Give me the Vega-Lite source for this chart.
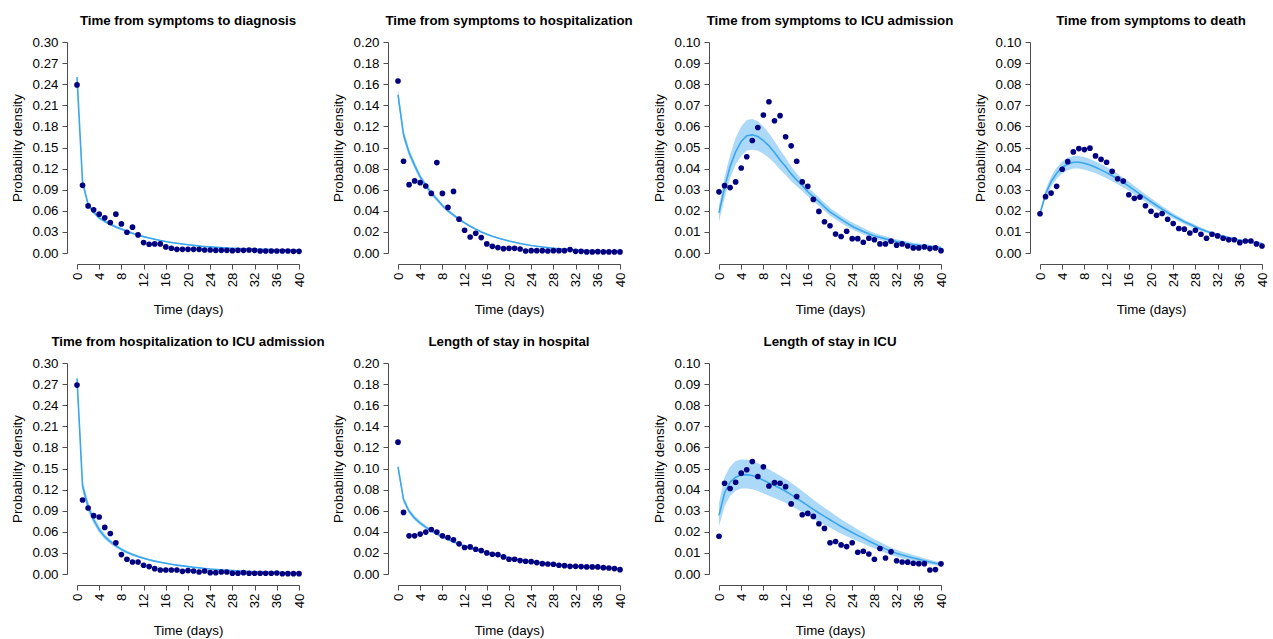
{
 "$schema": "https://vega.github.io/schema/vega-lite/v6.json",
 "padding": {"left": 10, "top": 13, "right": 5, "bottom": 2},
 "background": "white",
 "columns": 4,
 "spacing": {"row": 110, "column": 99},
 "bounds": "flush",
 "datasets": {
  "diag": [
   {"day":0,"observed":0.239,"fitted":0.250,"lower":0.243,"upper":0.257},
   {"day":1,"observed":0.0962,"fitted":0.101,"lower":0.096,"upper":0.106},
   {"day":2,"observed":0.067,"fitted":0.069,"lower":0.066,"upper":0.072},
   {"day":3,"observed":0.0614,"fitted":0.058,"lower":0.055,"upper":0.061},
   {"day":4,"observed":0.0552,"fitted":0.050,"lower":0.0475,"upper":0.0525},
   {"day":5,"observed":0.050,"fitted":0.045,"lower":0.043,"upper":0.047},
   {"day":6,"observed":0.0433,"fitted":0.041,"lower":0.039,"upper":0.043},
   {"day":7,"observed":0.0552,"fitted":0.037,"lower":0.035,"upper":0.039},
   {"day":8,"observed":0.0414,"fitted":0.034,"lower":0.0323,"upper":0.0357},
   {"day":9,"observed":0.0295,"fitted":0.031,"lower":0.0295,"upper":0.0326},
   {"day":10,"observed":0.0367,"fitted":0.028,"lower":0.0266,"upper":0.0294},
   {"day":11,"observed":0.0257,"fitted":0.0255,"lower":0.0242,"upper":0.0268},
   {"day":12,"observed":0.0148,"fitted":0.0233,"lower":0.0221,"upper":0.0245},
   {"day":13,"observed":0.0124,"fitted":0.0213,"lower":0.0202,"upper":0.0224},
   {"day":14,"observed":0.0129,"fitted":0.0195,"lower":0.0185,"upper":0.0205},
   {"day":15,"observed":0.0129,"fitted":0.0178,"lower":0.0169,"upper":0.0187},
   {"day":16,"observed":0.0086,"fitted":0.0163,"lower":0.0155,"upper":0.0171},
   {"day":17,"observed":0.0067,"fitted":0.015,"lower":0.0142,"upper":0.0158},
   {"day":18,"observed":0.0052,"fitted":0.0138,"lower":0.0131,"upper":0.0145},
   {"day":19,"observed":0.0052,"fitted":0.0127,"lower":0.0121,"upper":0.0133},
   {"day":20,"observed":0.0052,"fitted":0.0117,"lower":0.0111,"upper":0.0123},
   {"day":21,"observed":0.0052,"fitted":0.0108,"lower":0.0103,"upper":0.0113},
   {"day":22,"observed":0.0052,"fitted":0.0100,"lower":0.0095,"upper":0.0105},
   {"day":23,"observed":0.0043,"fitted":0.0093,"lower":0.0088,"upper":0.0098},
   {"day":24,"observed":0.0043,"fitted":0.0087,"lower":0.0083,"upper":0.0091},
   {"day":25,"observed":0.0038,"fitted":0.0081,"lower":0.0077,"upper":0.0085},
   {"day":26,"observed":0.0038,"fitted":0.0076,"lower":0.0072,"upper":0.008},
   {"day":27,"observed":0.0038,"fitted":0.0072,"lower":0.0068,"upper":0.0076},
   {"day":28,"observed":0.0033,"fitted":0.0068,"lower":0.0065,"upper":0.0071},
   {"day":29,"observed":0.0038,"fitted":0.0064,"lower":0.0061,"upper":0.0067},
   {"day":30,"observed":0.0038,"fitted":0.0061,"lower":0.0058,"upper":0.0064},
   {"day":31,"observed":0.0043,"fitted":0.0058,"lower":0.0055,"upper":0.0061},
   {"day":32,"observed":0.0038,"fitted":0.0055,"lower":0.0052,"upper":0.0058},
   {"day":33,"observed":0.0029,"fitted":0.0053,"lower":0.005,"upper":0.0056},
   {"day":34,"observed":0.0029,"fitted":0.0051,"lower":0.0048,"upper":0.0054},
   {"day":35,"observed":0.0029,"fitted":0.0049,"lower":0.0047,"upper":0.0051},
   {"day":36,"observed":0.0029,"fitted":0.0047,"lower":0.0045,"upper":0.0049},
   {"day":37,"observed":0.0029,"fitted":0.0045,"lower":0.0043,"upper":0.0047},
   {"day":38,"observed":0.0029,"fitted":0.0043,"lower":0.0041,"upper":0.0045},
   {"day":39,"observed":0.0024,"fitted":0.0041,"lower":0.0039,"upper":0.0043},
   {"day":40,"observed":0.0024,"fitted":0.0040,"lower":0.0038,"upper":0.0042}
  ],
  "hosp": [
   {"day":0,"observed":0.163,"fitted":0.150,"lower":0.144,"upper":0.156},
   {"day":1,"observed":0.087,"fitted":0.112,"lower":0.1075,"upper":0.1165},
   {"day":2,"observed":0.0648,"fitted":0.095,"lower":0.0912,"upper":0.0988},
   {"day":3,"observed":0.0683,"fitted":0.083,"lower":0.0797,"upper":0.0863},
   {"day":4,"observed":0.0667,"fitted":0.072,"lower":0.0691,"upper":0.0749},
   {"day":5,"observed":0.0635,"fitted":0.064,"lower":0.0614,"upper":0.0666},
   {"day":6,"observed":0.0565,"fitted":0.057,"lower":0.0547,"upper":0.0593},
   {"day":7,"observed":0.0857,"fitted":0.051,"lower":0.049,"upper":0.053},
   {"day":8,"observed":0.0565,"fitted":0.045,"lower":0.0432,"upper":0.0468},
   {"day":9,"observed":0.0432,"fitted":0.040,"lower":0.0384,"upper":0.0416},
   {"day":10,"observed":0.0584,"fitted":0.036,"lower":0.0346,"upper":0.0374},
   {"day":11,"observed":0.0321,"fitted":0.032,"lower":0.0307,"upper":0.0333},
   {"day":12,"observed":0.0216,"fitted":0.0285,"lower":0.0274,"upper":0.0296},
   {"day":13,"observed":0.0152,"fitted":0.0254,"lower":0.0244,"upper":0.0264},
   {"day":14,"observed":0.0187,"fitted":0.0226,"lower":0.0217,"upper":0.0235},
   {"day":15,"observed":0.0146,"fitted":0.020,"lower":0.0192,"upper":0.0208},
   {"day":16,"observed":0.0086,"fitted":0.0178,"lower":0.0171,"upper":0.0185},
   {"day":17,"observed":0.0063,"fitted":0.0159,"lower":0.0153,"upper":0.0165},
   {"day":18,"observed":0.0051,"fitted":0.0142,"lower":0.0136,"upper":0.0148},
   {"day":19,"observed":0.0041,"fitted":0.0127,"lower":0.0122,"upper":0.0132},
   {"day":20,"observed":0.0044,"fitted":0.0113,"lower":0.0108,"upper":0.0118},
   {"day":21,"observed":0.0044,"fitted":0.0101,"lower":0.0097,"upper":0.0105},
   {"day":22,"observed":0.0038,"fitted":0.0090,"lower":0.0086,"upper":0.0094},
   {"day":23,"observed":0.0019,"fitted":0.0080,"lower":0.0077,"upper":0.0083},
   {"day":24,"observed":0.0022,"fitted":0.0071,"lower":0.0068,"upper":0.0074},
   {"day":25,"observed":0.0022,"fitted":0.0064,"lower":0.0061,"upper":0.0067},
   {"day":26,"observed":0.0022,"fitted":0.0057,"lower":0.0055,"upper":0.0059},
   {"day":27,"observed":0.0019,"fitted":0.0051,"lower":0.0049,"upper":0.0053},
   {"day":28,"observed":0.0022,"fitted":0.0045,"lower":0.0043,"upper":0.0047},
   {"day":29,"observed":0.0022,"fitted":0.0040,"lower":0.0038,"upper":0.0042},
   {"day":30,"observed":0.0022,"fitted":0.0036,"lower":0.0035,"upper":0.0037},
   {"day":31,"observed":0.0032,"fitted":0.0032,"lower":0.0031,"upper":0.0033},
   {"day":32,"observed":0.0016,"fitted":0.0029,"lower":0.0028,"upper":0.0030},
   {"day":33,"observed":0.0016,"fitted":0.0026,"lower":0.0025,"upper":0.0027},
   {"day":34,"observed":0.001,"fitted":0.0023,"lower":0.0022,"upper":0.0024},
   {"day":35,"observed":0.001,"fitted":0.0021,"lower":0.002,"upper":0.0022},
   {"day":36,"observed":0.0013,"fitted":0.0019,"lower":0.0018,"upper":0.002},
   {"day":37,"observed":0.001,"fitted":0.0017,"lower":0.0016,"upper":0.0018},
   {"day":38,"observed":0.001,"fitted":0.0015,"lower":0.0014,"upper":0.0016},
   {"day":39,"observed":0.001,"fitted":0.0013,"lower":0.0012,"upper":0.0014},
   {"day":40,"observed":0.001,"fitted":0.0012,"lower":0.0011,"upper":0.0013}
  ],
  "icu": [
   {"day":0,"observed":0.029,"fitted":0.019,"lower":0.0148,"upper":0.0225},
   {"day":1,"observed":0.0319,"fitted":0.031,"lower":0.026,"upper":0.036},
   {"day":2,"observed":0.031,"fitted":0.041,"lower":0.0355,"upper":0.0465},
   {"day":3,"observed":0.0337,"fitted":0.048,"lower":0.042,"upper":0.0545},
   {"day":4,"observed":0.0403,"fitted":0.0529,"lower":0.046,"upper":0.060},
   {"day":5,"observed":0.0456,"fitted":0.0556,"lower":0.0485,"upper":0.063},
   {"day":6,"observed":0.0533,"fitted":0.056,"lower":0.049,"upper":0.0635},
   {"day":7,"observed":0.0595,"fitted":0.0552,"lower":0.0485,"upper":0.0625},
   {"day":8,"observed":0.0654,"fitted":0.0533,"lower":0.047,"upper":0.060},
   {"day":9,"observed":0.0717,"fitted":0.0508,"lower":0.045,"upper":0.0568},
   {"day":10,"observed":0.0627,"fitted":0.0476,"lower":0.0425,"upper":0.053},
   {"day":11,"observed":0.0651,"fitted":0.0441,"lower":0.0396,"upper":0.0488},
   {"day":12,"observed":0.0551,"fitted":0.041,"lower":0.037,"upper":0.0452},
   {"day":13,"observed":0.0508,"fitted":0.0375,"lower":0.034,"upper":0.041},
   {"day":14,"observed":0.0435,"fitted":0.0346,"lower":0.0316,"upper":0.0377},
   {"day":15,"observed":0.0337,"fitted":0.032,"lower":0.0294,"upper":0.0347},
   {"day":16,"observed":0.0316,"fitted":0.029,"lower":0.0268,"upper":0.0313},
   {"day":17,"observed":0.0254,"fitted":0.0266,"lower":0.0245,"upper":0.0288},
   {"day":18,"observed":0.0197,"fitted":0.0243,"lower":0.0223,"upper":0.0264},
   {"day":19,"observed":0.0148,"fitted":0.0219,"lower":0.0200,"upper":0.0239},
   {"day":20,"observed":0.0129,"fitted":0.0195,"lower":0.0177,"upper":0.0214},
   {"day":21,"observed":0.0090,"fitted":0.0177,"lower":0.016,"upper":0.0195},
   {"day":22,"observed":0.0078,"fitted":0.0159,"lower":0.0142,"upper":0.0177},
   {"day":23,"observed":0.0103,"fitted":0.0143,"lower":0.0126,"upper":0.016},
   {"day":24,"observed":0.0068,"fitted":0.0127,"lower":0.0111,"upper":0.0145},
   {"day":25,"observed":0.0068,"fitted":0.0114,"lower":0.0099,"upper":0.0131},
   {"day":26,"observed":0.0051,"fitted":0.0102,"lower":0.0088,"upper":0.0118},
   {"day":27,"observed":0.0070,"fitted":0.0091,"lower":0.0078,"upper":0.0106},
   {"day":28,"observed":0.0063,"fitted":0.0081,"lower":0.0069,"upper":0.0095},
   {"day":29,"observed":0.0043,"fitted":0.0074,"lower":0.0062,"upper":0.0087},
   {"day":30,"observed":0.0043,"fitted":0.0067,"lower":0.0055,"upper":0.0079},
   {"day":31,"observed":0.0056,"fitted":0.006,"lower":0.0049,"upper":0.0071},
   {"day":32,"observed":0.0037,"fitted":0.0054,"lower":0.0044,"upper":0.0065},
   {"day":33,"observed":0.0043,"fitted":0.0049,"lower":0.0039,"upper":0.0059},
   {"day":34,"observed":0.0033,"fitted":0.0044,"lower":0.0035,"upper":0.0054},
   {"day":35,"observed":0.0024,"fitted":0.004,"lower":0.0031,"upper":0.0049},
   {"day":36,"observed":0.0024,"fitted":0.0037,"lower":0.0028,"upper":0.0045},
   {"day":37,"observed":0.0029,"fitted":0.0034,"lower":0.0025,"upper":0.0042},
   {"day":38,"observed":0.0021,"fitted":0.0031,"lower":0.0023,"upper":0.0039},
   {"day":39,"observed":0.0024,"fitted":0.0028,"lower":0.0021,"upper":0.0036},
   {"day":40,"observed":0.0011,"fitted":0.0025,"lower":0.0019,"upper":0.0033}
  ],
  "death": [
   {"day":0,"observed":0.0186,"fitted":0.0186,"lower":0.0177,"upper":0.0195},
   {"day":1,"observed":0.0267,"fitted":0.028,"lower":0.026,"upper":0.030},
   {"day":2,"observed":0.0284,"fitted":0.0338,"lower":0.0314,"upper":0.0362},
   {"day":3,"observed":0.0316,"fitted":0.0378,"lower":0.0352,"upper":0.0404},
   {"day":4,"observed":0.0397,"fitted":0.0406,"lower":0.0378,"upper":0.0434},
   {"day":5,"observed":0.0433,"fitted":0.0422,"lower":0.0392,"upper":0.0452},
   {"day":6,"observed":0.0479,"fitted":0.043,"lower":0.040,"upper":0.046},
   {"day":7,"observed":0.0495,"fitted":0.043,"lower":0.040,"upper":0.046},
   {"day":8,"observed":0.049,"fitted":0.0425,"lower":0.0395,"upper":0.0455},
   {"day":9,"observed":0.0497,"fitted":0.0417,"lower":0.0388,"upper":0.0446},
   {"day":10,"observed":0.046,"fitted":0.0406,"lower":0.0378,"upper":0.0434},
   {"day":11,"observed":0.0444,"fitted":0.0394,"lower":0.0366,"upper":0.0422},
   {"day":12,"observed":0.043,"fitted":0.0381,"lower":0.0354,"upper":0.0408},
   {"day":13,"observed":0.0387,"fitted":0.0366,"lower":0.034,"upper":0.0392},
   {"day":14,"observed":0.0352,"fitted":0.0351,"lower":0.0326,"upper":0.0376},
   {"day":15,"observed":0.0341,"fitted":0.0334,"lower":0.0311,"upper":0.0357},
   {"day":16,"observed":0.0276,"fitted":0.0317,"lower":0.0295,"upper":0.0339},
   {"day":17,"observed":0.0259,"fitted":0.0298,"lower":0.0277,"upper":0.0319},
   {"day":18,"observed":0.0265,"fitted":0.0279,"lower":0.0259,"upper":0.0299},
   {"day":19,"observed":0.0224,"fitted":0.0261,"lower":0.0243,"upper":0.0279},
   {"day":20,"observed":0.0198,"fitted":0.0243,"lower":0.0226,"upper":0.026},
   {"day":21,"observed":0.0179,"fitted":0.0225,"lower":0.0209,"upper":0.0241},
   {"day":22,"observed":0.0187,"fitted":0.0208,"lower":0.0193,"upper":0.0223},
   {"day":23,"observed":0.016,"fitted":0.0192,"lower":0.0179,"upper":0.0205},
   {"day":24,"observed":0.014,"fitted":0.0176,"lower":0.0164,"upper":0.0188},
   {"day":25,"observed":0.0116,"fitted":0.0162,"lower":0.0151,"upper":0.0173},
   {"day":26,"observed":0.0113,"fitted":0.0148,"lower":0.0138,"upper":0.0158},
   {"day":27,"observed":0.0095,"fitted":0.0136,"lower":0.0126,"upper":0.0146},
   {"day":28,"observed":0.0108,"fitted":0.0124,"lower":0.0115,"upper":0.0133},
   {"day":29,"observed":0.0089,"fitted":0.0113,"lower":0.0105,"upper":0.0121},
   {"day":30,"observed":0.007,"fitted":0.0103,"lower":0.0096,"upper":0.011},
   {"day":31,"observed":0.0089,"fitted":0.0094,"lower":0.0087,"upper":0.0101},
   {"day":32,"observed":0.0081,"fitted":0.0086,"lower":0.008,"upper":0.0092},
   {"day":33,"observed":0.007,"fitted":0.0079,"lower":0.0073,"upper":0.0085},
   {"day":34,"observed":0.0063,"fitted":0.0073,"lower":0.0068,"upper":0.0078},
   {"day":35,"observed":0.0063,"fitted":0.0066,"lower":0.0061,"upper":0.0071},
   {"day":36,"observed":0.0049,"fitted":0.0061,"lower":0.0057,"upper":0.0065},
   {"day":37,"observed":0.0057,"fitted":0.0056,"lower":0.0052,"upper":0.006},
   {"day":38,"observed":0.0057,"fitted":0.0052,"lower":0.0048,"upper":0.0056},
   {"day":39,"observed":0.0043,"fitted":0.0048,"lower":0.0045,"upper":0.0051},
   {"day":40,"observed":0.0033,"fitted":0.0045,"lower":0.0042,"upper":0.0048}
  ],
  "hospicu": [
   {"day":0,"observed":0.2686,"fitted":0.278,"lower":0.270,"upper":0.286},
   {"day":1,"observed":0.1052,"fitted":0.125,"lower":0.117,"upper":0.133},
   {"day":2,"observed":0.0938,"fitted":0.096,"lower":0.089,"upper":0.103},
   {"day":3,"observed":0.0829,"fitted":0.077,"lower":0.0716,"upper":0.0824},
   {"day":4,"observed":0.081,"fitted":0.063,"lower":0.0586,"upper":0.0674},
   {"day":5,"observed":0.0662,"fitted":0.053,"lower":0.0493,"upper":0.0567},
   {"day":6,"observed":0.0576,"fitted":0.046,"lower":0.0428,"upper":0.0492},
   {"day":7,"observed":0.0443,"fitted":0.040,"lower":0.0372,"upper":0.0428},
   {"day":8,"observed":0.0276,"fitted":0.035,"lower":0.0326,"upper":0.0374},
   {"day":9,"observed":0.021,"fitted":0.031,"lower":0.0288,"upper":0.0332},
   {"day":10,"observed":0.0171,"fitted":0.0276,"lower":0.0257,"upper":0.0295},
   {"day":11,"observed":0.0171,"fitted":0.0248,"lower":0.0231,"upper":0.0265},
   {"day":12,"observed":0.0124,"fitted":0.0224,"lower":0.0208,"upper":0.024},
   {"day":13,"observed":0.0105,"fitted":0.0202,"lower":0.0188,"upper":0.0216},
   {"day":14,"observed":0.0076,"fitted":0.0183,"lower":0.017,"upper":0.0196},
   {"day":15,"observed":0.0057,"fitted":0.0167,"lower":0.0155,"upper":0.0179},
   {"day":16,"observed":0.0057,"fitted":0.0152,"lower":0.0141,"upper":0.0163},
   {"day":17,"observed":0.0057,"fitted":0.0138,"lower":0.0128,"upper":0.0148},
   {"day":18,"observed":0.0057,"fitted":0.0126,"lower":0.0117,"upper":0.0135},
   {"day":19,"observed":0.0038,"fitted":0.0115,"lower":0.0107,"upper":0.0123},
   {"day":20,"observed":0.0048,"fitted":0.0105,"lower":0.0098,"upper":0.0112},
   {"day":21,"observed":0.0043,"fitted":0.0096,"lower":0.0089,"upper":0.0103},
   {"day":22,"observed":0.0029,"fitted":0.0087,"lower":0.0081,"upper":0.0093},
   {"day":23,"observed":0.0043,"fitted":0.0079,"lower":0.0073,"upper":0.0085},
   {"day":24,"observed":0.0019,"fitted":0.0071,"lower":0.0066,"upper":0.0076},
   {"day":25,"observed":0.0019,"fitted":0.0065,"lower":0.006,"upper":0.007},
   {"day":26,"observed":0.0029,"fitted":0.0059,"lower":0.0055,"upper":0.0063},
   {"day":27,"observed":0.0029,"fitted":0.0053,"lower":0.0049,"upper":0.0057},
   {"day":28,"observed":0.001,"fitted":0.0048,"lower":0.0045,"upper":0.0051},
   {"day":29,"observed":0.001,"fitted":0.0044,"lower":0.0041,"upper":0.0047},
   {"day":30,"observed":0.0019,"fitted":0.004,"lower":0.0037,"upper":0.0043},
   {"day":31,"observed":0.001,"fitted":0.0036,"lower":0.0033,"upper":0.0039},
   {"day":32,"observed":0.001,"fitted":0.0033,"lower":0.0031,"upper":0.0035},
   {"day":33,"observed":0.001,"fitted":0.003,"lower":0.0028,"upper":0.0032},
   {"day":34,"observed":0.001,"fitted":0.0028,"lower":0.0026,"upper":0.003},
   {"day":35,"observed":0.001,"fitted":0.0026,"lower":0.0024,"upper":0.0028},
   {"day":36,"observed":0.0014,"fitted":0.0024,"lower":0.0022,"upper":0.0026},
   {"day":37,"observed":0.0003,"fitted":0.0021,"lower":0.002,"upper":0.0022},
   {"day":38,"observed":0.0005,"fitted":0.0019,"lower":0.0018,"upper":0.002},
   {"day":39,"observed":0.0005,"fitted":0.0017,"lower":0.0016,"upper":0.0018},
   {"day":40,"observed":0.0005,"fitted":0.0015,"lower":0.0014,"upper":0.0016}
  ],
  "loshosp": [
   {"day":0,"observed":0.125,"fitted":0.1016,"lower":0.0975,"upper":0.1057},
   {"day":1,"observed":0.0584,"fitted":0.0705,"lower":0.0677,"upper":0.0733},
   {"day":2,"observed":0.0362,"fitted":0.0594,"lower":0.057,"upper":0.0618},
   {"day":3,"observed":0.0362,"fitted":0.053,"lower":0.0509,"upper":0.0551},
   {"day":4,"observed":0.0378,"fitted":0.0483,"lower":0.0464,"upper":0.0502},
   {"day":5,"observed":0.0397,"fitted":0.0444,"lower":0.0426,"upper":0.0462},
   {"day":6,"observed":0.0422,"fitted":0.041,"lower":0.0394,"upper":0.0426},
   {"day":7,"observed":0.0397,"fitted":0.038,"lower":0.0365,"upper":0.0395},
   {"day":8,"observed":0.0362,"fitted":0.0352,"lower":0.0338,"upper":0.0366},
   {"day":9,"observed":0.0346,"fitted":0.0327,"lower":0.0314,"upper":0.034},
   {"day":10,"observed":0.0324,"fitted":0.0305,"lower":0.0293,"upper":0.0317},
   {"day":11,"observed":0.0286,"fitted":0.0284,"lower":0.0273,"upper":0.0295},
   {"day":12,"observed":0.0251,"fitted":0.0265,"lower":0.0254,"upper":0.0276},
   {"day":13,"observed":0.0257,"fitted":0.0247,"lower":0.0237,"upper":0.0257},
   {"day":14,"observed":0.0235,"fitted":0.0231,"lower":0.0222,"upper":0.024},
   {"day":15,"observed":0.0222,"fitted":0.0216,"lower":0.0207,"upper":0.0225},
   {"day":16,"observed":0.02,"fitted":0.0202,"lower":0.0194,"upper":0.021},
   {"day":17,"observed":0.0187,"fitted":0.0189,"lower":0.0181,"upper":0.0197},
   {"day":18,"observed":0.0184,"fitted":0.0177,"lower":0.017,"upper":0.0184},
   {"day":19,"observed":0.0162,"fitted":0.0165,"lower":0.0158,"upper":0.0172},
   {"day":20,"observed":0.014,"fitted":0.0155,"lower":0.0149,"upper":0.0161},
   {"day":21,"observed":0.014,"fitted":0.0145,"lower":0.0139,"upper":0.0151},
   {"day":22,"observed":0.0127,"fitted":0.0136,"lower":0.0131,"upper":0.0141},
   {"day":23,"observed":0.0121,"fitted":0.0127,"lower":0.0122,"upper":0.0132},
   {"day":24,"observed":0.0117,"fitted":0.0119,"lower":0.0114,"upper":0.0124},
   {"day":25,"observed":0.0108,"fitted":0.0112,"lower":0.0108,"upper":0.0116},
   {"day":26,"observed":0.0098,"fitted":0.0105,"lower":0.0101,"upper":0.0109},
   {"day":27,"observed":0.0095,"fitted":0.0099,"lower":0.0095,"upper":0.0103},
   {"day":28,"observed":0.0092,"fitted":0.0093,"lower":0.0089,"upper":0.0097},
   {"day":29,"observed":0.0083,"fitted":0.0088,"lower":0.0084,"upper":0.0092},
   {"day":30,"observed":0.0079,"fitted":0.0083,"lower":0.008,"upper":0.0086},
   {"day":31,"observed":0.0073,"fitted":0.0078,"lower":0.0075,"upper":0.0081},
   {"day":32,"observed":0.0073,"fitted":0.0074,"lower":0.0071,"upper":0.0077},
   {"day":33,"observed":0.007,"fitted":0.007,"lower":0.0067,"upper":0.0073},
   {"day":34,"observed":0.0067,"fitted":0.0066,"lower":0.0063,"upper":0.0069},
   {"day":35,"observed":0.0067,"fitted":0.0063,"lower":0.006,"upper":0.0066},
   {"day":36,"observed":0.0067,"fitted":0.006,"lower":0.0058,"upper":0.0062},
   {"day":37,"observed":0.006,"fitted":0.0057,"lower":0.0055,"upper":0.0059},
   {"day":38,"observed":0.0057,"fitted":0.0054,"lower":0.0052,"upper":0.0056},
   {"day":39,"observed":0.0051,"fitted":0.0051,"lower":0.0049,"upper":0.0053},
   {"day":40,"observed":0.0041,"fitted":0.0049,"lower":0.0047,"upper":0.0051}
  ],
  "losicu": [
   {"day":0,"observed":0.0179,"fitted":0.0278,"lower":0.0225,"upper":0.0337},
   {"day":1,"observed":0.043,"fitted":0.0384,"lower":0.032,"upper":0.046},
   {"day":2,"observed":0.0405,"fitted":0.0435,"lower":0.037,"upper":0.051},
   {"day":3,"observed":0.0435,"fitted":0.0459,"lower":0.0395,"upper":0.0535},
   {"day":4,"observed":0.0478,"fitted":0.047,"lower":0.0405,"upper":0.0543},
   {"day":5,"observed":0.0494,"fitted":0.0471,"lower":0.0405,"upper":0.0543},
   {"day":6,"observed":0.0533,"fitted":0.0467,"lower":0.0402,"upper":0.0538},
   {"day":7,"observed":0.0462,"fitted":0.0457,"lower":0.0393,"upper":0.0525},
   {"day":8,"observed":0.0508,"fitted":0.0444,"lower":0.0382,"upper":0.051},
   {"day":9,"observed":0.0417,"fitted":0.0432,"lower":0.0371,"upper":0.0496},
   {"day":10,"observed":0.0433,"fitted":0.0419,"lower":0.036,"upper":0.0481},
   {"day":11,"observed":0.043,"fitted":0.0406,"lower":0.0349,"upper":0.0466},
   {"day":12,"observed":0.0414,"fitted":0.0392,"lower":0.0337,"upper":0.045},
   {"day":13,"observed":0.0332,"fitted":0.0376,"lower":0.0323,"upper":0.0432},
   {"day":14,"observed":0.0367,"fitted":0.0359,"lower":0.0308,"upper":0.0413},
   {"day":15,"observed":0.0281,"fitted":0.0342,"lower":0.0293,"upper":0.0393},
   {"day":16,"observed":0.0287,"fitted":0.0324,"lower":0.0277,"upper":0.0373},
   {"day":17,"observed":0.0273,"fitted":0.0306,"lower":0.0262,"upper":0.0352},
   {"day":18,"observed":0.0238,"fitted":0.0289,"lower":0.0247,"upper":0.0333},
   {"day":19,"observed":0.0216,"fitted":0.0273,"lower":0.0233,"upper":0.0314},
   {"day":20,"observed":0.0148,"fitted":0.0257,"lower":0.0219,"upper":0.0296},
   {"day":21,"observed":0.0154,"fitted":0.0241,"lower":0.0205,"upper":0.0277},
   {"day":22,"observed":0.0138,"fitted":0.0225,"lower":0.0191,"upper":0.0259},
   {"day":23,"observed":0.013,"fitted":0.0211,"lower":0.0179,"upper":0.0243},
   {"day":24,"observed":0.0148,"fitted":0.0197,"lower":0.0167,"upper":0.0227},
   {"day":25,"observed":0.0103,"fitted":0.0183,"lower":0.0155,"upper":0.0211},
   {"day":26,"observed":0.0108,"fitted":0.017,"lower":0.0144,"upper":0.0196},
   {"day":27,"observed":0.0095,"fitted":0.0156,"lower":0.0132,"upper":0.018},
   {"day":28,"observed":0.007,"fitted":0.0143,"lower":0.0121,"upper":0.0165},
   {"day":29,"observed":0.0121,"fitted":0.0131,"lower":0.011,"upper":0.0152},
   {"day":30,"observed":0.0076,"fitted":0.0119,"lower":0.0099,"upper":0.0139},
   {"day":31,"observed":0.0105,"fitted":0.0108,"lower":0.009,"upper":0.0126},
   {"day":32,"observed":0.0063,"fitted":0.0098,"lower":0.0081,"upper":0.0115},
   {"day":33,"observed":0.0057,"fitted":0.009,"lower":0.0074,"upper":0.0106},
   {"day":34,"observed":0.0056,"fitted":0.0083,"lower":0.0068,"upper":0.0098},
   {"day":35,"observed":0.0051,"fitted":0.0076,"lower":0.0062,"upper":0.009},
   {"day":36,"observed":0.0049,"fitted":0.007,"lower":0.0057,"upper":0.0083},
   {"day":37,"observed":0.0049,"fitted":0.0063,"lower":0.0051,"upper":0.0075},
   {"day":38,"observed":0.0019,"fitted":0.0057,"lower":0.0046,"upper":0.0068},
   {"day":39,"observed":0.0021,"fitted":0.0051,"lower":0.0041,"upper":0.0061},
   {"day":40,"observed":0.0048,"fitted":0.0046,"lower":0.0037,"upper":0.0055}
  ]
 },
 "concat": [
  {
   "title": "Time from symptoms to diagnosis",
   "width": 222, "height": 211,
   "data": {"name": "diag"},
   "encoding": {"x": {"field": "day", "type": "quantitative", "title": "Time (days)", "scale": {"domain": [0, 40], "nice": false}, "axis": {"values": [0,4,8,12,16,20,24,28,32,36,40], "tickCount": 41}}},
   "layer": [
    {"mark": {"type": "area", "color": "#acd9f7", "opacity": 1}, "encoding": {"y": {"field": "lower", "type": "quantitative", "title": "Probability density", "scale": {"domain": [0, 0.3], "nice": false}, "axis": {"values": [0,0.03,0.06,0.09,0.12,0.15,0.18,0.21,0.24,0.27,0.3], "format": ".2f", "tickCount": 41}}, "y2": {"field": "upper"}}},
    {"mark": {"type": "line", "color": "#3aa6ee", "strokeWidth": 1.6}, "encoding": {"y": {"field": "fitted", "type": "quantitative", "title": "Probability density", "scale": {"domain": [0, 0.3], "nice": false}}}},
    {"mark": {"type": "point", "filled": true, "color": "#000080", "size": 32, "opacity": 1}, "encoding": {"y": {"field": "observed", "type": "quantitative", "title": "Probability density", "scale": {"domain": [0, 0.3], "nice": false}}}}
   ]
  },
  {
   "title": "Time from symptoms to hospitalization",
   "width": 222, "height": 211,
   "data": {"name": "hosp"},
   "encoding": {"x": {"field": "day", "type": "quantitative", "title": "Time (days)", "scale": {"domain": [0, 40], "nice": false}, "axis": {"values": [0,4,8,12,16,20,24,28,32,36,40], "tickCount": 41}}},
   "layer": [
    {"mark": {"type": "area", "color": "#acd9f7", "opacity": 1}, "encoding": {"y": {"field": "lower", "type": "quantitative", "title": "Probability density", "scale": {"domain": [0, 0.2], "nice": false}, "axis": {"values": [0,0.02,0.04,0.06,0.08,0.1,0.12,0.14,0.16,0.18,0.2], "format": ".2f", "tickCount": 41}}, "y2": {"field": "upper"}}},
    {"mark": {"type": "line", "color": "#3aa6ee", "strokeWidth": 1.6}, "encoding": {"y": {"field": "fitted", "type": "quantitative", "title": "Probability density", "scale": {"domain": [0, 0.2], "nice": false}}}},
    {"mark": {"type": "point", "filled": true, "color": "#000080", "size": 32, "opacity": 1}, "encoding": {"y": {"field": "observed", "type": "quantitative", "title": "Probability density", "scale": {"domain": [0, 0.2], "nice": false}}}}
   ]
  },
  {
   "title": "Time from symptoms to ICU admission",
   "width": 222, "height": 211,
   "data": {"name": "icu"},
   "encoding": {"x": {"field": "day", "type": "quantitative", "title": "Time (days)", "scale": {"domain": [0, 40], "nice": false}, "axis": {"values": [0,4,8,12,16,20,24,28,32,36,40], "tickCount": 41}}},
   "layer": [
    {"mark": {"type": "area", "color": "#acd9f7", "opacity": 1}, "encoding": {"y": {"field": "lower", "type": "quantitative", "title": "Probability density", "scale": {"domain": [0, 0.1], "nice": false}, "axis": {"values": [0,0.01,0.02,0.03,0.04,0.05,0.06,0.07,0.08,0.09,0.1], "format": ".2f", "tickCount": 41}}, "y2": {"field": "upper"}}},
    {"mark": {"type": "line", "color": "#3aa6ee", "strokeWidth": 1.6}, "encoding": {"y": {"field": "fitted", "type": "quantitative", "title": "Probability density", "scale": {"domain": [0, 0.1], "nice": false}}}},
    {"mark": {"type": "point", "filled": true, "color": "#000080", "size": 32, "opacity": 1}, "encoding": {"y": {"field": "observed", "type": "quantitative", "title": "Probability density", "scale": {"domain": [0, 0.1], "nice": false}}}}
   ]
  },
  {
   "title": "Time from symptoms to death",
   "width": 222, "height": 211,
   "data": {"name": "death"},
   "encoding": {"x": {"field": "day", "type": "quantitative", "title": "Time (days)", "scale": {"domain": [0, 40], "nice": false}, "axis": {"values": [0,4,8,12,16,20,24,28,32,36,40], "tickCount": 41}}},
   "layer": [
    {"mark": {"type": "area", "color": "#acd9f7", "opacity": 1}, "encoding": {"y": {"field": "lower", "type": "quantitative", "title": "Probability density", "scale": {"domain": [0, 0.1], "nice": false}, "axis": {"values": [0,0.01,0.02,0.03,0.04,0.05,0.06,0.07,0.08,0.09,0.1], "format": ".2f", "tickCount": 41}}, "y2": {"field": "upper"}}},
    {"mark": {"type": "line", "color": "#3aa6ee", "strokeWidth": 1.6}, "encoding": {"y": {"field": "fitted", "type": "quantitative", "title": "Probability density", "scale": {"domain": [0, 0.1], "nice": false}}}},
    {"mark": {"type": "point", "filled": true, "color": "#000080", "size": 32, "opacity": 1}, "encoding": {"y": {"field": "observed", "type": "quantitative", "title": "Probability density", "scale": {"domain": [0, 0.1], "nice": false}}}}
   ]
  },
  {
   "title": "Time from hospitalization to ICU admission",
   "width": 222, "height": 211,
   "data": {"name": "hospicu"},
   "encoding": {"x": {"field": "day", "type": "quantitative", "title": "Time (days)", "scale": {"domain": [0, 40], "nice": false}, "axis": {"values": [0,4,8,12,16,20,24,28,32,36,40], "tickCount": 41}}},
   "layer": [
    {"mark": {"type": "area", "color": "#acd9f7", "opacity": 1}, "encoding": {"y": {"field": "lower", "type": "quantitative", "title": "Probability density", "scale": {"domain": [0, 0.3], "nice": false}, "axis": {"values": [0,0.03,0.06,0.09,0.12,0.15,0.18,0.21,0.24,0.27,0.3], "format": ".2f", "tickCount": 41}}, "y2": {"field": "upper"}}},
    {"mark": {"type": "line", "color": "#3aa6ee", "strokeWidth": 1.6}, "encoding": {"y": {"field": "fitted", "type": "quantitative", "title": "Probability density", "scale": {"domain": [0, 0.3], "nice": false}}}},
    {"mark": {"type": "point", "filled": true, "color": "#000080", "size": 32, "opacity": 1}, "encoding": {"y": {"field": "observed", "type": "quantitative", "title": "Probability density", "scale": {"domain": [0, 0.3], "nice": false}}}}
   ]
  },
  {
   "title": "Length of stay in hospital",
   "width": 222, "height": 211,
   "data": {"name": "loshosp"},
   "encoding": {"x": {"field": "day", "type": "quantitative", "title": "Time (days)", "scale": {"domain": [0, 40], "nice": false}, "axis": {"values": [0,4,8,12,16,20,24,28,32,36,40], "tickCount": 41}}},
   "layer": [
    {"mark": {"type": "area", "color": "#acd9f7", "opacity": 1}, "encoding": {"y": {"field": "lower", "type": "quantitative", "title": "Probability density", "scale": {"domain": [0, 0.2], "nice": false}, "axis": {"values": [0,0.02,0.04,0.06,0.08,0.1,0.12,0.14,0.16,0.18,0.2], "format": ".2f", "tickCount": 41}}, "y2": {"field": "upper"}}},
    {"mark": {"type": "line", "color": "#3aa6ee", "strokeWidth": 1.6}, "encoding": {"y": {"field": "fitted", "type": "quantitative", "title": "Probability density", "scale": {"domain": [0, 0.2], "nice": false}}}},
    {"mark": {"type": "point", "filled": true, "color": "#000080", "size": 32, "opacity": 1}, "encoding": {"y": {"field": "observed", "type": "quantitative", "title": "Probability density", "scale": {"domain": [0, 0.2], "nice": false}}}}
   ]
  },
  {
   "title": "Length of stay in ICU",
   "width": 222, "height": 211,
   "data": {"name": "losicu"},
   "encoding": {"x": {"field": "day", "type": "quantitative", "title": "Time (days)", "scale": {"domain": [0, 40], "nice": false}, "axis": {"values": [0,4,8,12,16,20,24,28,32,36,40], "tickCount": 41}}},
   "layer": [
    {"mark": {"type": "area", "color": "#acd9f7", "opacity": 1}, "encoding": {"y": {"field": "lower", "type": "quantitative", "title": "Probability density", "scale": {"domain": [0, 0.1], "nice": false}, "axis": {"values": [0,0.01,0.02,0.03,0.04,0.05,0.06,0.07,0.08,0.09,0.1], "format": ".2f", "tickCount": 41}}, "y2": {"field": "upper"}}},
    {"mark": {"type": "line", "color": "#3aa6ee", "strokeWidth": 1.6}, "encoding": {"y": {"field": "fitted", "type": "quantitative", "title": "Probability density", "scale": {"domain": [0, 0.1], "nice": false}}}},
    {"mark": {"type": "point", "filled": true, "color": "#000080", "size": 32, "opacity": 1}, "encoding": {"y": {"field": "observed", "type": "quantitative", "title": "Probability density", "scale": {"domain": [0, 0.1], "nice": false}}}}
   ]
  }
 ],
 "config": {
  "font": "Liberation Sans",
  "view": {"stroke": null},
  "axis": {"grid": false, "domainColor": "#4d4d4d", "tickColor": "#4d4d4d", "labelColor": "#000000", "titleColor": "#000000", "labelFont": "Liberation Sans", "titleFont": "Liberation Sans", "labelFontSize": 13.3, "titleFontSize": 13.3, "titleFontWeight": "normal", "tickSize": 5, "domainWidth": 1, "tickWidth": 1, "labelFlush": false, "labelOverlap": false},
  "axisX": {"offset": 11, "labelAngle": -90, "titlePadding": 16, "labelPadding": 3},
  "axisY": {"offset": 10, "titlePadding": 8, "labelPadding": 4},
  "title": {"font": "Liberation Sans", "fontSize": 13.3, "fontWeight": "bold", "color": "#000000", "anchor": "middle", "frame": "group", "offset": 8}
 }
}
